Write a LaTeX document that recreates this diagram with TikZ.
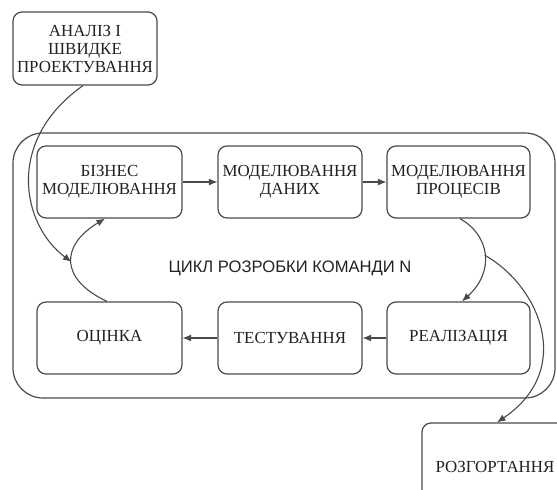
\documentclass[tikz,border=0pt]{standalone}
\usepackage{fontspec}
\setmainfont{Liberation Serif}
\newfontfamily\labelsans{Liberation Sans}
\usetikzlibrary{arrows.meta}
\definecolor{linegray}{HTML}{4A4A4A}
\definecolor{txt}{HTML}{222222}
\begin{document}
\begin{tikzpicture}[x=1pt,y=-1pt,
  stage/.style={draw=linegray, line width=1.2pt, rounded corners=9pt, inner sep=0pt,
    align=center, text=txt, font=\fontsize{16.9}{18}\selectfont},
  container/.style={draw=linegray, line width=1.2pt, rounded corners=30pt, inner sep=0pt},
  arr/.style={draw=linegray, line width=1.1pt, -{Latex[length=8.5pt,width=7pt]}},
  link/.style={draw=linegray, line width=1.1pt}
]
\useasboundingbox (0,0) rectangle (557,490);
\clip (0,0) rectangle (557,490);
\fill[white] (0,0) rectangle (557,490);

\node[container, minimum width=542pt, minimum height=265pt] (cyc) at (284,265.5) {};
\node[text=txt, font=\labelsans\fontsize{16.6}{18}\selectfont] (cyclabel) at (290,268) {ЦИКЛ РОЗРОБКИ КОМАНДИ N};

\node[stage, minimum width=144pt, minimum height=73pt] (top) at (85,48.5) {АНАЛІЗ І\\ШВИДКЕ\\ПРОЕКТУВАННЯ};

\node[stage, minimum width=145pt, minimum height=72pt] (biz) at (109.5,182) {БІЗНЕС\\МОДЕЛЮВАННЯ};
\node[stage, minimum width=144pt, minimum height=72pt] (dan) at (290,182) {МОДЕЛЮВАННЯ\\ДАНИХ};
\node[stage, minimum width=143pt, minimum height=72pt] (proc) at (458.5,182) {МОДЕЛЮВАННЯ\\ПРОЦЕСІВ};

\node[stage, minimum width=145pt, minimum height=72pt] (ocin) at (109.5,338) {ОЦІНКА};
\node[stage, minimum width=144pt, minimum height=72pt] (test) at (290,338) {ТЕСТУВАННЯ};
\node[stage, minimum width=143pt, minimum height=72pt] (real) at (458.5,338) {РЕАЛІЗАЦІЯ};

\node[stage, minimum width=146pt, minimum height=88pt] (rozg) at (495,467) {РОЗГОРТАННЯ};

\draw[arr] (biz) -- (dan);
\draw[arr] (dan) -- (proc);
\draw[arr] (real) -- (test);
\draw[arr] (test) -- (ocin);

\draw[arr] ([xshift=-2.5pt]ocin.north) .. controls +(-47,-22) and +(-45,27) .. ([xshift=-4.5pt]biz.south)
  coordinate[pos=0.5] (bm);
\draw[arr] ([xshift=-2pt]top.south) .. controls +(-78,55) and +(-50,-37) .. (bm);

\draw[arr] ([xshift=1.5pt]proc.south) .. controls +(30,17) and +(33,-30) .. ([xshift=3.5pt]real.north)
  coordinate[pos=0.5] (cm);
\draw[arr] (cm) .. controls +(55,31) and +(78,-53) .. ([xshift=2pt]rozg.north);
\end{tikzpicture}
\end{document}
